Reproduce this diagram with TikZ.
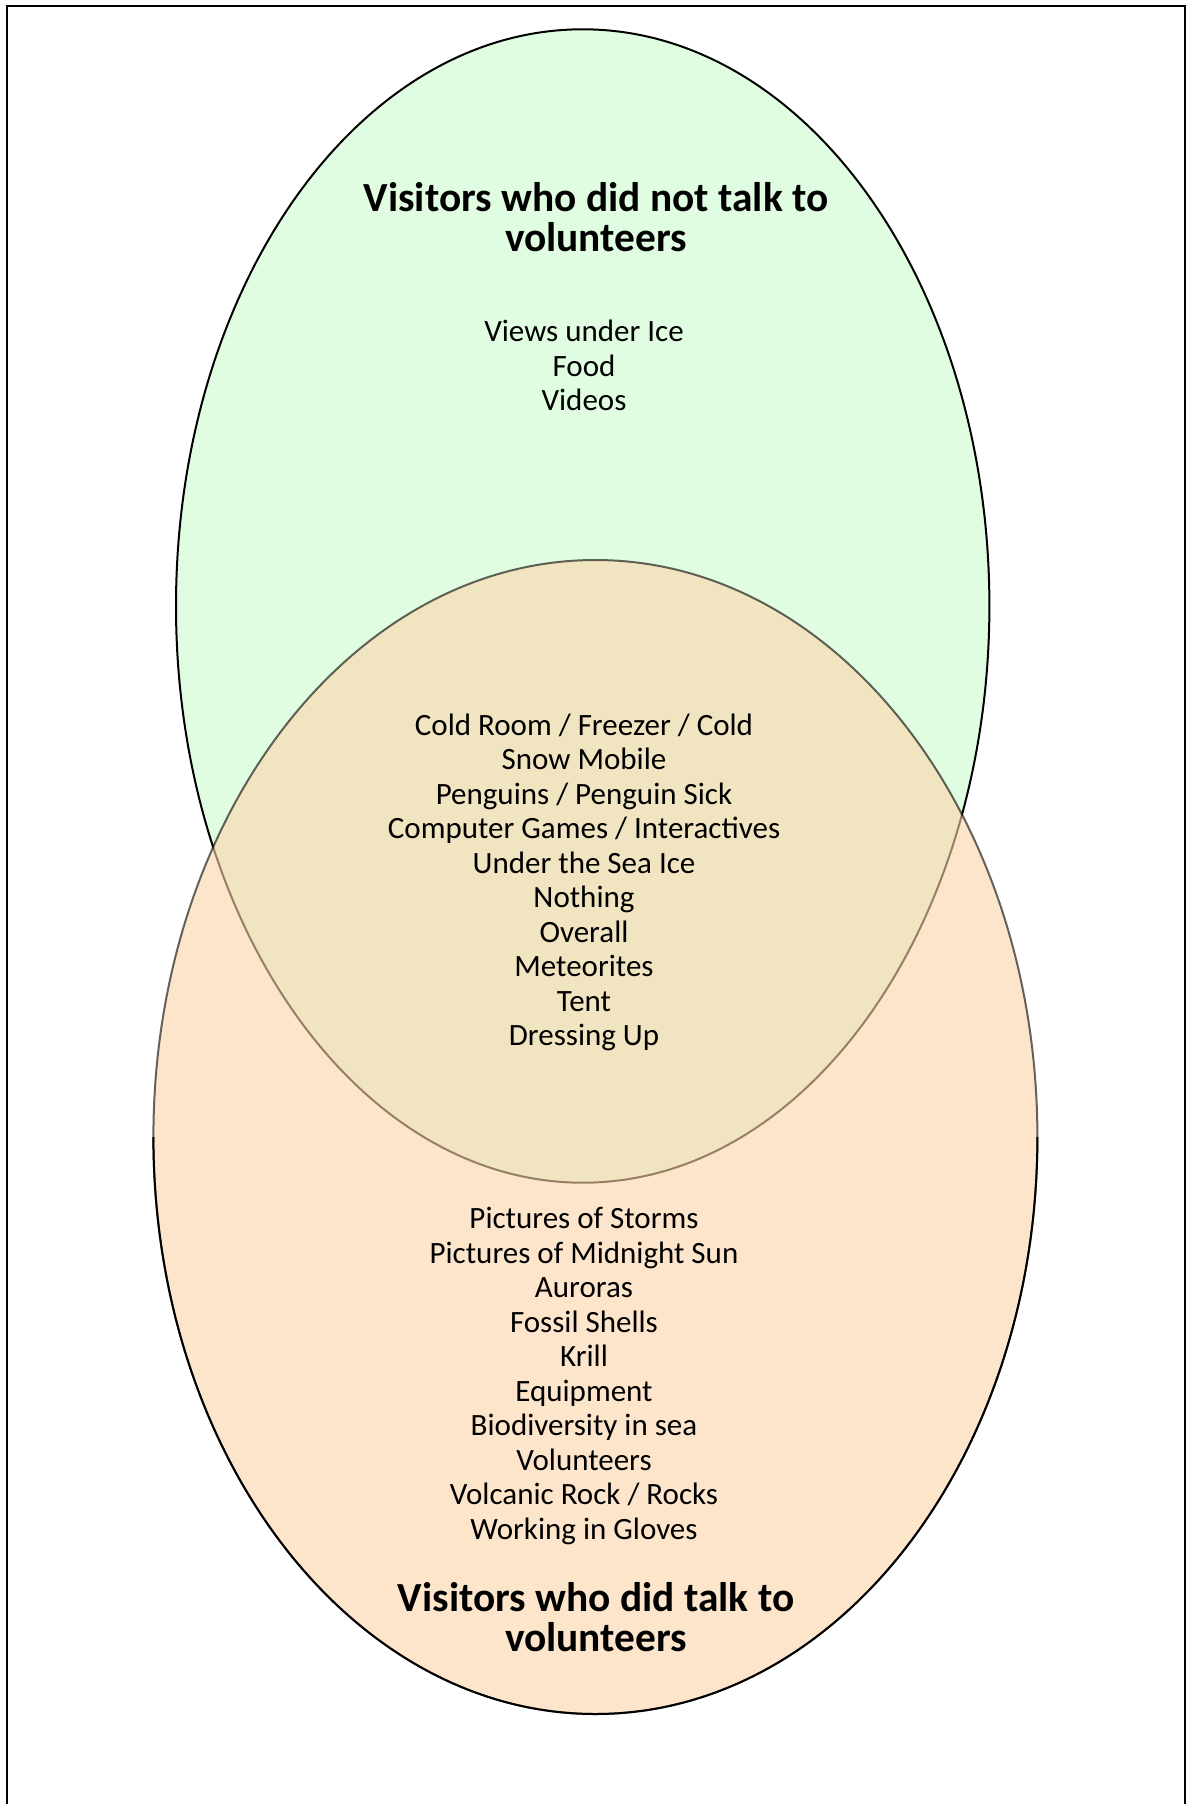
\documentclass[tikz,border=0pt]{standalone}
\usepackage{fontspec}
\setmainfont{Carlito}
\definecolor{notalkfill}{RGB}{225,253,225}
\definecolor{talkfill}{RGB}{252,212,170}
\tikzset{
  circ/.style={line width=1pt},
  heading/.style={align=center, font=\fontsize{20.7}{20}\selectfont\bfseries, anchor=base},
  items/.style={align=center, font=\fontsize{15.5}{17.25}\selectfont, anchor=base}
}
\begin{document}
\begin{tikzpicture}[x=0.5pt, y=-0.5pt]
  \useasboundingbox (0,0) rectangle (1187,1804);

  \coordinate (frame-bl) at (6.5, 1810);
  \coordinate (frame-tl) at (6.5, 5.5);
  \coordinate (frame-tr) at (1185, 5.5);
  \coordinate (frame-br) at (1185, 1810);
  \draw[line width=1pt] (frame-bl) -- (frame-tl) -- (frame-tr) -- (frame-br);

  % the two sets
  \coordinate (notalk) at (582.7, 606);
  \coordinate (talk) at (595.4, 1137);
  \draw[circ, fill=notalkfill] (notalk) ellipse [x radius=406.7, y radius=576.7];
  \draw[circ, fill=talkfill, fill opacity=0.6, draw opacity=0.6] (talk) ellipse [x radius=442, y radius=577];
  \draw[circ] (talk) ++(-442,0) arc [start angle=180, end angle=0, x radius=442, y radius=577];

  % base anchor sits on the last line
  \node[heading] (notalk-title) at (596, 251.7) {Visitors who did not talk to\\volunteers};
  \node[items] (notalk-items) at (584, 410.7) {Views under Ice\\Food\\Videos};

  \node[items] (both-items) at (584, 1045.5) {Cold Room / Freezer / Cold\\Snow Mobile\\Penguins / Penguin Sick\\Computer Games / Interactives\\Under the Sea Ice\\Nothing\\Overall\\Meteorites\\Tent\\Dressing Up};

  \node[items] (talk-items) at (584, 1539) {Pictures of Storms\\Pictures of Midnight Sun\\Auroras\\Fossil Shells\\Krill\\Equipment\\Biodiversity in sea\\Volunteers\\Volcanic Rock / Rocks\\Working in Gloves};
  \node[heading] (talk-title) at (596, 1651) {Visitors who did talk to\\volunteers};
\end{tikzpicture}
\end{document}
